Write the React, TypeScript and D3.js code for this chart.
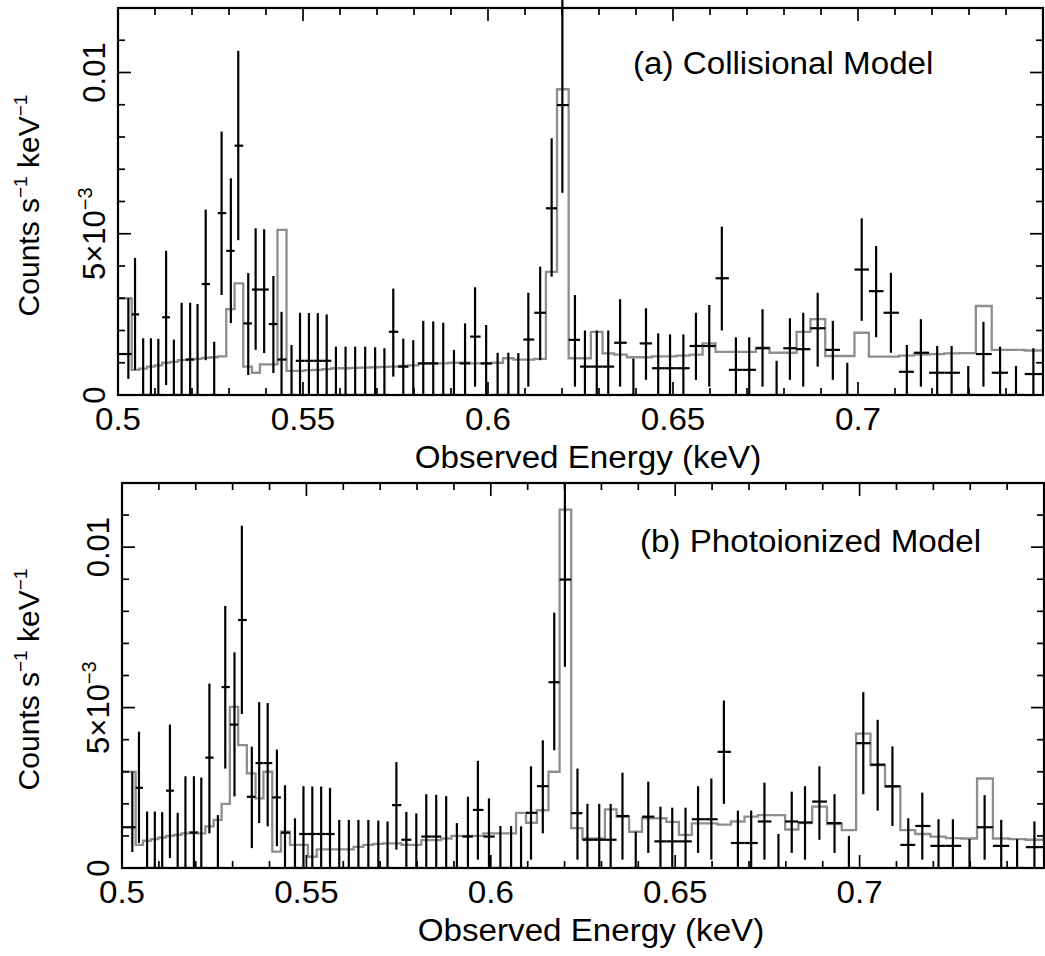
import React from 'react';
import * as d3 from 'd3';

// Observed energy (keV) of each spectral bin centre
const energy = [
  0.5028, 0.5046, 0.5068, 0.5089, 0.5109, 0.5130, 0.5151, 0.5172, 0.5195, 0.5215,
  0.5237, 0.5260, 0.5280, 0.5305, 0.5325, 0.5352, 0.5372, 0.5395, 0.5420, 0.5442,
  0.5469, 0.5492, 0.5516, 0.5540, 0.5564, 0.5589, 0.5615, 0.5641, 0.5668, 0.5695,
  0.5720, 0.5744, 0.5771, 0.5798, 0.5825, 0.5852, 0.5879, 0.5908, 0.5938, 0.5965,
  0.5995, 0.6026, 0.6055, 0.6082, 0.6109, 0.6141, 0.6172, 0.6201, 0.6235, 0.6262,
  0.6294, 0.6325, 0.6357, 0.6393, 0.6427, 0.6460, 0.6492, 0.6528, 0.6562, 0.6598,
  0.6632, 0.6670, 0.6706, 0.6742, 0.6780, 0.6816, 0.6852, 0.6891, 0.6932, 0.6971,
  0.7010, 0.7049, 0.7089, 0.7132, 0.7170, 0.7214, 0.7253, 0.7298, 0.7339, 0.7384,
  0.7427, 0.7474,
];

// Data: count rate (units of 1e-3 counts s^-1 keV^-1)
const rate = [
  1.27, 2.5, 0, 0, 0, 2.41, 0, 0, 1.1, 0,
  3.44, 0, 5.64, 4.47, 7.73, 2.22, 3.27, 3.27, 2.2, 1.1,
  0, 1.06, 1.06, 1.06, 1.06, 0, 0, 0, 0, 0,
  0, 1.96, 0.88, 0, 0.98, 0.98, 0, 0, 0.98, 1.81,
  0.98, 0, 0, 0, 1.72, 2.55, 5.79, 8.99, 1.71, 0.88,
  0.88, 0.88, 1.62, 0, 1.6, 0.83, 0.83, 0.83, 1.52, 1.52,
  3.62, 0.78, 0.78, 1.45, 0, 1.45, 1.42, 2.07, 1.4, 0,
  3.89, 3.22, 2.55, 0.72, 1.31, 0.69, 0.69, 0, 1.27, 0.69,
  0, 0.65,
];
const rateLo = [
  0.5, 0.78, 0, 0, 0, 0.31, 0, 0, 0, 0,
  1.08, 0, 3.1, 2.23, 4.8, 0.62, 1.4, 1.3, 0.68, 0,
  0, 0, 0, 0, 0, 0, 0, 0, 0, 0,
  0, 0.57, 0, 0, 0, 0, 0, 0, 0, 0.26,
  0, 0, 0, 0, 0.26, 1.08, 3.67, 6.27, 0.26, 0,
  0, 0, 0.26, 0, 0.47, 0, 0, 0, 0.47, 0.26,
  2.0, 0, 0, 0.26, 0, 0.47, 0.26, 0.88, 0.47, 0,
  2.3, 1.79, 1.31, 0, 0.26, 0, 0, 0, 0.26, 0,
  0, 0,
];
const rateHi = [
  3.0, 4.25, 1.76, 1.76, 1.74, 4.47, 1.72, 2.86, 2.86, 2.82,
  5.75, 1.65, 8.17, 6.72, 10.67, 3.78, 5.17, 5.14, 3.69, 2.58,
  1.55, 2.55, 2.54, 2.54, 2.5, 1.5, 1.5, 1.5, 1.5, 1.48,
  1.45, 3.3, 1.75, 1.7, 2.3, 2.28, 2.24, 1.4, 2.22, 3.34,
  2.17, 1.31, 1.31, 1.3, 3.17, 3.98, 7.96, 12.6, 3.1, 2.0,
  2.0, 2.0, 2.97, 1.13, 2.69, 1.91, 1.88, 1.88, 2.55, 2.79,
  5.22, 1.79, 1.79, 2.66, 1.06, 2.38, 2.55, 3.17, 2.3, 1.0,
  5.48, 4.62, 3.79, 1.55, 2.35, 1.52, 1.52, 0.9, 2.27, 1.5,
  0.9, 1.45,
];

// Model (a): collisional
const modelCollisional = [
  3.0, 0.78, 0.82, 0.88, 0.92, 1.0, 1.03, 1.08, 1.1, 1.12,
  1.15, 1.17, 1.2, 2.66, 3.46, 0.88, 0.69, 0.95, 0.95, 5.12,
  0.75, 0.75, 0.77, 0.78, 0.8, 0.83, 0.83, 0.84, 0.85, 0.86,
  0.87, 0.88, 0.9, 0.92, 0.98, 0.98, 0.98, 1.0, 1.0, 0.98,
  0.98, 1.0, 1.14, 1.1, 1.1, 1.12, 3.82, 9.48, 1.14, 1.14,
  1.96, 1.29, 1.25, 1.17, 1.17, 1.2, 1.2, 1.22, 1.25, 1.6,
  1.34, 1.34, 1.34, 1.47, 1.31, 1.31, 1.96, 2.35, 1.21, 1.21,
  1.93, 1.19, 1.19, 1.22, 1.25, 1.27, 1.29, 1.3, 2.76, 1.4,
  1.4, 1.38,
];

// Model (b): photoionized
const modelPhotoionized = [
  3.0, 0.72, 0.85, 0.9, 0.95, 1.0, 1.03, 1.08, 1.12, 1.08,
  1.3, 1.5, 2.0, 5.02, 3.83, 2.95, 2.17, 3.0, 0.51, 1.13,
  0.72, 0.72, 0.35, 0.58, 0.58, 0.58, 0.58, 0.66, 0.72, 0.75,
  0.77, 0.77, 0.72, 0.72, 0.87, 0.87, 0.92, 1.0, 1.0, 1.0,
  1.08, 1.08, 1.08, 1.72, 1.41, 1.8, 3.0, 11.17, 1.24, 0.92,
  0.92, 1.83, 1.6, 1.13, 1.55, 1.55, 1.44, 1.03, 1.39, 1.39,
  1.35, 1.45, 1.6, 1.65, 1.65, 1.2, 1.4, 1.91, 1.37, 1.18,
  4.19, 3.21, 2.53, 1.18, 1.06, 0.98, 0.93, 0.92, 2.79, 0.92,
  0.9, 0.88,
];

const xDomain = [0.5, 0.75];
const yDomain = [0, 12]; // units of 1e-3
const xTickValues = [0.5, 0.55, 0.6, 0.65, 0.7];
const xTickLabels = ['0.5', '0.55', '0.6', '0.65', '0.7'];
const yTickValues = [0, 5, 10];
const panelTitles = ['(a) Collisional Model', '(b) Photoionized Model'];
const xAxisTitle = 'Observed Energy (keV)';

const FONT = "'Liberation Sans', Arial, Helvetica, sans-serif";

function YTickLabel({ v, x, y }: { v: number; x: number; y: number }) {
  const tr = `translate(${x},${y}) rotate(-90)`;
  if (v === 5) {
    return (
      <text transform={tr} textAnchor="middle" fontSize={31}>
        5×10<tspan dy={-13} fontSize={20}>−3</tspan>
      </text>
    );
  }
  return (
    <text transform={tr} textAnchor="middle" fontSize={31}>
      {v === 0 ? '0' : '0.01'}
    </text>
  );
}

function Panel(props: {
  id: string; left: number; right: number; top: number; bottom: number;
  model: number[]; title: string; titleX: number; titleY: number;
  clipTop: number; xTitleX: number;
}) {
  const { id, left, right, top, bottom, model, title, titleX, titleY, clipTop, xTitleX } = props;
  const x = d3.scaleLinear().domain(xDomain).range([left, right]);
  const y = d3.scaleLinear().domain(yDomain).range([bottom, top]);
  const n = energy.length;
  const edges = [xDomain[0], ...d3.range(1, n).map(i => (energy[i - 1] + energy[i]) / 2), xDomain[1]];
  const pts: [number, number][] = model.map((m, i) => [edges[i], m] as [number, number]);
  pts.push([edges[n], model[n - 1]]);
  const line = d3.line<[number, number]>().x(d => x(d[0])).y(d => y(d[1])).curve(d3.curveStepAfter);

  const xt = x.ticks(25);
  const yt = y.ticks(12);
  const isMajorX = (t: number) => Math.abs(t * 20 - Math.round(t * 20)) < 1e-6;
  const isMajorY = (t: number) => Math.abs(t % 5) < 1e-6;
  const MAJ = 13, MIN = 7;
  const cy = (top + bottom) / 2;

  return (
    <g>
      <defs>
        <clipPath id={id}>
          <rect x={left} y={clipTop} width={right - left} height={bottom - clipTop} />
        </clipPath>
      </defs>
      <g clipPath={`url(#${id})`}>
        <path d={line(pts) || ''} fill="none" stroke="#8e8e8e" strokeWidth={2.3} />
        {energy.map((e, i) => (
          <g key={i} stroke="#000" strokeWidth={2.2}>
            <line x1={x(e)} x2={x(e)} y1={y(rateLo[i])} y2={y(rateHi[i])} />
            <line x1={x(edges[i])} x2={x(edges[i + 1])} y1={y(rate[i])} y2={y(rate[i])} />
          </g>
        ))}
      </g>
      <g stroke="#000" strokeWidth={1.7}>
        {xt.map((t, i) => {
          const L = isMajorX(t) ? MAJ : MIN;
          return (
            <g key={'x' + i}>
              <line x1={x(t)} x2={x(t)} y1={bottom} y2={bottom - L} />
              <line x1={x(t)} x2={x(t)} y1={top} y2={top + L} />
            </g>
          );
        })}
        {yt.map((t, i) => {
          const L = isMajorY(t) ? MAJ : MIN;
          return (
            <g key={'y' + i}>
              <line x1={left} x2={left + L} y1={y(t)} y2={y(t)} />
              <line x1={right} x2={right - L} y1={y(t)} y2={y(t)} />
            </g>
          );
        })}
      </g>
      <rect x={left} y={top} width={right - left} height={bottom - top} fill="none" stroke="#000" strokeWidth={2.2} />
      {xTickValues.map((t, i) => (
        <text key={i} transform={`translate(${x(t)},${bottom + 35}) scale(1.07,1)`} textAnchor="middle" fontSize={31}>
          {xTickLabels[i]}
        </text>
      ))}
      <text transform={`translate(${xTitleX},${bottom + 73}) scale(1.07,1)`} textAnchor="middle" fontSize={31}>
        {xAxisTitle}
      </text>
      {yTickValues.map((v, i) => (
        <YTickLabel key={i} v={v} x={left - 13} y={y(v)} />
      ))}
      <text transform={`translate(39,${cy + 4}) rotate(-90)`} textAnchor="middle" fontSize={30}>
        Counts s<tspan dy={-12} fontSize={19}>−1</tspan>
        <tspan dy={12}>{' keV'}</tspan>
        <tspan dy={-12} fontSize={19}>−1</tspan>
      </text>
      <text transform={`translate(${titleX},${titleY}) scale(1.07,1)`} fontSize={31}>
        {title}
      </text>
    </g>
  );
}

export default function App() {
  return (
    <svg width={1045} height={956} style={{ position: 'absolute', left: 0, top: 0, background: '#fff' }}
      fontFamily={FONT}>
      <rect x={0} y={0} width={1045} height={956} fill="#fff" />
      <Panel id="clipA" left={118} right={1043} top={8} bottom={395} model={modelCollisional}
        title={panelTitles[0]} titleX={633} titleY={74} clipTop={0} xTitleX={588} />
      <Panel id="clipB" left={122} right={1044} top={483} bottom={868} model={modelPhotoionized}
        title={panelTitles[1]} titleX={640} titleY={552} clipTop={483} xTitleX={591} />
    </svg>
  );
}
